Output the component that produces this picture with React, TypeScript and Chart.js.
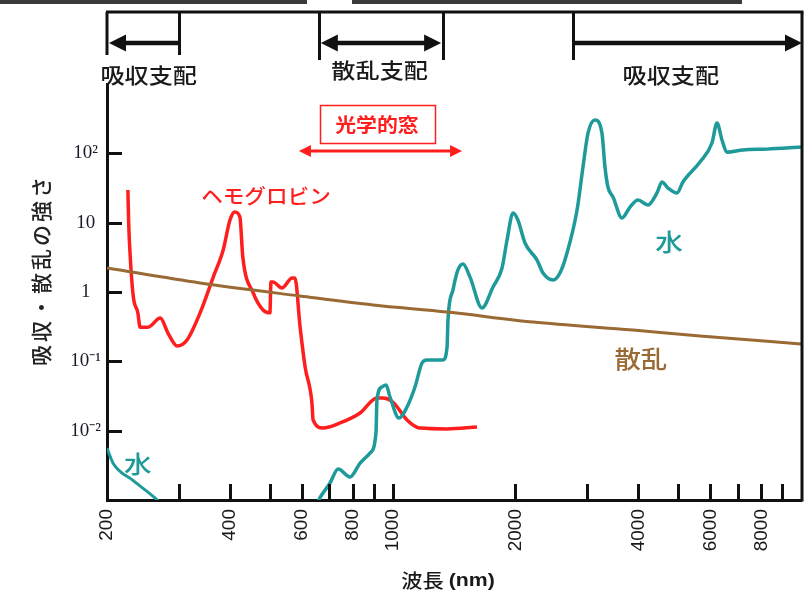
import React, { useEffect, useRef } from "react";
import { Chart, registerables } from "chart.js";

Chart.register(...registerables);

// ---- colours ----
const RED = "#ff1e1e";
const TEAL = "#1f9a9a";
const BROWN = "#9a6a35";
const INK = "#111111";
const JP = '"Noto Sans CJK JP", "Noto Sans", sans-serif';

// ---- data (wavelength in nm, relative strength) ----
const hbWavelengths = [225, 226, 228, 232, 238, 241, 252, 270, 282, 297, 314, 338, 364, 385, 400, 411, 423, 430, 456, 482, 501, 504, 510, 536, 568, 577, 594, 611, 635, 639, 676, 744, 833, 916, 948, 1002, 1085, 1167, 1360, 1610];
const hbValues = [29.6, 9.9, 3.2, 0.85, 0.5, 0.31, 0.31, 0.42, 0.256, 0.166, 0.203, 0.5, 1.64, 4.03, 10.9, 14.3, 12.1, 3.2, 0.97, 0.55, 0.5, 1.39, 1.39, 1.14, 1.59, 1.59, 0.31, 0.083, 0.025, 0.0143, 0.0109, 0.0129, 0.018, 0.0296, 0.0296, 0.0259, 0.0143, 0.0109, 0.0106, 0.0113];

const waterUvWavelengths = [200, 207, 232, 262, 270];
const waterUvValues = [0.0056, 0.0034, 0.0019, 0.00107, 0.0009];

const waterWavelengths = [655, 664, 703, 736, 787, 833, 881, 911, 916, 942, 964, 986, 1037, 1085, 1135, 1181, 1214, 1329, 1360, 1367, 1406, 1446, 1488, 1548, 1656, 1762, 1854, 1907, 1972, 2028, 2110, 2258, 2336, 2472, 2570, 2674, 2830, 2926, 3010, 3130, 3256, 3312, 3368, 3466, 3646, 3814, 3990, 4220, 4440, 4568, 4724, 4970, 5140, 5658, 6054, 6228, 6406, 6588, 7212, 8256, 10000];
const waterValues = [0.0009, 0.00107, 0.00176, 0.0028, 0.00215, 0.00341, 0.00476, 0.00925, 0.0277, 0.0426, 0.0455, 0.0306, 0.0152, 0.0219, 0.0426, 0.0946, 0.1045, 0.1045, 0.161, 0.394, 1.07, 2.08, 2.53, 1.64, 0.587, 1.18, 2.22, 5.62, 13.8, 10.9, 5.09, 2.89, 1.88, 1.49, 1.88, 3.65, 15.2, 63.5, 196, 303, 196, 63.5, 32.7, 23.4, 11.7, 16.8, 21.2, 18.0, 26.8, 38.6, 31.6, 26.8, 38.6, 75, 141, 274, 156, 104, 112, 115, 123];

const scatterWavelengths = [200, 338, 594, 896, 1360, 2208, 3878, 5658, 10000];
const scatterValues = [2.22, 1.35, 0.875, 0.649, 0.514, 0.369, 0.283, 0.232, 0.178];

// ---- axes ----
const xTickValues = [200, 300, 400, 500, 600, 700, 800, 900, 1000, 2000, 3000, 4000, 5000, 6000, 7000, 8000, 9000];
const xLabeledTicks = [200, 400, 600, 800, 1000, 2000, 4000, 6000, 8000];
const yTickValues = [0.01, 0.1, 1, 10, 100];
const yTickLabels = ["10⁻²", "10⁻¹", "1", "10", "10²"];
const xTitleMain = "波長 ";
const xTitleUnit = "(nm)";
const yTitle = "吸収・散乱の強さ";

// ---- annotations ----
const regionDividers = [300, 660, 1330, 2770];
const regionLabels = ["吸収支配", "散乱支配", "吸収支配"];
const regionLabelWavelengths = [253, 930, 4800];
const windowRange = [590, 1480];
const windowArrowValue = 108;
const windowLabel = "光学的窓";
const windowLabelAt = [916, 265];
const hbLabel = "ヘモグロビン";
const hbLabelAt = [490, 24.3];
const waterLabel = "水";
const waterLabelsAt = [[238, 0.0033], [4752, 5.26]];
const scatterLabel = "散乱";
const scatterLabelAt = [4055, 0.108];

function toPoints(xs: number[], ys: number[]) {
  return xs.map((x, i) => ({ x, y: ys[i] }));
}

function drawText(ctx: CanvasRenderingContext2D, text: string, cx: number, cy: number, font: string, color: string, sx = 1) {
  ctx.save();
  ctx.translate(cx, cy);
  ctx.scale(sx, 1);
  ctx.font = font;
  ctx.fillStyle = color;
  ctx.textAlign = "center";
  ctx.textBaseline = "middle";
  ctx.fillText(text, 0, 0);
  ctx.restore();
}

function line(ctx: CanvasRenderingContext2D, x1: number, y1: number, x2: number, y2: number) {
  ctx.beginPath();
  ctx.moveTo(x1, y1);
  ctx.lineTo(x2, y2);
  ctx.stroke();
}

function head(ctx: CanvasRenderingContext2D, tipX: number, y: number, dir: number, len: number, half: number) {
  ctx.beginPath();
  ctx.moveTo(tipX, y);
  ctx.lineTo(tipX - dir * len, y - half);
  ctx.lineTo(tipX - dir * len, y + half);
  ctx.closePath();
  ctx.fill();
}

const decorations = {
  id: "decorations",
  afterDraw(chart: any) {
    const { ctx, chartArea: ca } = chart;
    const x = chart.scales.x;
    const y = chart.scales.y;
    ctx.save();

    // scanned noise strip at the very top
    ctx.fillStyle = "#3a3a3a";
    ctx.fillRect(0, 0, 307, 4);
    ctx.fillRect(352, 0, 390, 4);

    // inner tick marks
    ctx.strokeStyle = INK;
    ctx.lineWidth = 3;
    xTickValues.forEach((v) => {
      if (v === xTickValues[0]) return;
      const px = Math.round(x.getPixelForValue(v)) + 0.5;
      line(ctx, px, ca.bottom, px, ca.bottom - 16);
    });
    yTickValues.forEach((v) => {
      const py = Math.round(y.getPixelForValue(v)) + 0.5;
      line(ctx, ca.left, py, ca.left + 15, py);
    });

    // right frame and top bracket line
    const rightX = ca.right + 1;
    line(ctx, rightX, 12, rightX, ca.bottom + 1.5);
    line(ctx, ca.left - 1, 12, rightX + 1.5, 12);

    // region dividers
    line(ctx, ca.left, 12, ca.left, 55);
    regionDividers.forEach((v, i) => {
      const px = Math.round(x.getPixelForValue(v)) + 0.5;
      line(ctx, px, 12, px, i === 0 ? 55 : 60);
    });

    // region arrows
    ctx.fillStyle = INK;
    ctx.lineWidth = 4.5;
    const ay = 43;
    const d0 = x.getPixelForValue(regionDividers[0]);
    const d1 = x.getPixelForValue(regionDividers[1]);
    const d2 = x.getPixelForValue(regionDividers[2]);
    const d3 = x.getPixelForValue(regionDividers[3]);
    line(ctx, d0, ay, ca.left + 12, ay);
    head(ctx, ca.left + 2, ay, -1, 17, 8.5);
    line(ctx, d1 + 12, ay, d2 - 12, ay);
    head(ctx, d1 + 2, ay, -1, 17, 8.5);
    head(ctx, d2 - 2, ay, 1, 17, 8.5);
    line(ctx, d3, ay, rightX - 12, ay);
    head(ctx, rightX, ay, 1, 17, 8.5);

    // region labels
    const regionFont = `500 21px ${JP}`;
    regionLabels.forEach((t, i) => {
      drawText(ctx, t, x.getPixelForValue(regionLabelWavelengths[i]), i === 1 ? 70 : 75, regionFont, "#1a1a1a", 1.15);
    });

    // optical window
    const wy = y.getPixelForValue(windowArrowValue);
    const w0 = x.getPixelForValue(windowRange[0]);
    const w1 = x.getPixelForValue(windowRange[1]);
    ctx.strokeStyle = RED;
    ctx.fillStyle = RED;
    ctx.lineWidth = 3;
    line(ctx, w0 + 8, wy, w1 - 8, wy);
    head(ctx, w0, wy, -1, 12, 6);
    head(ctx, w1, wy, 1, 12, 6);
    const bx = x.getPixelForValue(windowLabelAt[0]);
    const by = y.getPixelForValue(windowLabelAt[1]);
    ctx.lineWidth = 1.5;
    ctx.strokeRect(Math.round(bx - 57) + 0.5, Math.round(by - 19) + 0.5, 115, 38);
    drawText(ctx, windowLabel, bx, by + 1, `bold 19px ${JP}`, RED, 1.1);

    // curve labels
    drawText(ctx, hbLabel, x.getPixelForValue(hbLabelAt[0]), y.getPixelForValue(hbLabelAt[1]), `500 20px ${JP}`, RED, 1.08);
    waterLabelsAt.forEach(([wx, wv]) => {
      drawText(ctx, waterLabel, x.getPixelForValue(wx), y.getPixelForValue(wv), `500 24px ${JP}`, TEAL, 1.15);
    });
    drawText(ctx, scatterLabel, x.getPixelForValue(scatterLabelAt[0]), y.getPixelForValue(scatterLabelAt[1]), `500 24px ${JP}`, BROWN, 1.1);

    // y title
    ctx.save();
    ctx.translate(41, 270);
    ctx.rotate(-Math.PI / 2);
    ctx.font = `500 21px ${JP}`;
    (ctx as any).letterSpacing = "3px";
    ctx.fillStyle = "#222";
    ctx.textAlign = "center";
    ctx.textBaseline = "middle";
    ctx.fillText(yTitle, 0, 0);
    ctx.restore();

    // x title
    ctx.save();
    const fMain = `500 19px ${JP}`;
    const fUnit = `bold 19px "Liberation Sans", ${JP}`;
    ctx.font = fMain;
    const wMain = ctx.measureText(xTitleMain).width;
    ctx.font = fUnit;
    const wUnit = ctx.measureText(xTitleUnit).width;
    const sx = 1.12;
    ctx.translate(448, 581);
    ctx.scale(sx, 1);
    const start = -(wMain + wUnit) / 2;
    ctx.fillStyle = "#1a1a1a";
    ctx.textBaseline = "middle";
    ctx.textAlign = "left";
    ctx.font = fMain;
    ctx.fillText(xTitleMain, start, 0);
    ctx.font = fUnit;
    ctx.fillText(xTitleUnit, start + wMain, 0);
    ctx.restore();

    ctx.restore();
  },
};

export default function App() {
  const ref = useRef<HTMLCanvasElement>(null);
  useEffect(() => {
    const chart = new Chart(ref.current as HTMLCanvasElement, {
      type: "line",
      data: {
        datasets: [
          { data: toPoints(scatterWavelengths, scatterValues), borderColor: BROWN, borderWidth: 3, pointRadius: 0, cubicInterpolationMode: "monotone" },
          { data: toPoints(waterUvWavelengths, waterUvValues), borderColor: TEAL, borderWidth: 3, pointRadius: 0, cubicInterpolationMode: "monotone" },
          { data: toPoints(waterWavelengths, waterValues), borderColor: TEAL, borderWidth: 3.5, pointRadius: 0, cubicInterpolationMode: "monotone" },
          { data: toPoints(hbWavelengths, hbValues), borderColor: RED, borderWidth: 3.5, pointRadius: 0, cubicInterpolationMode: "monotone" },
        ],
      } as any,
      options: {
        responsive: false,
        animation: false,
        layout: { padding: { top: 84, right: 0, left: 0, bottom: 0 } },
        plugins: { legend: { display: false }, tooltip: { enabled: false } },
        scales: {
          x: {
            type: "logarithmic",
            min: 200,
            max: 10000,
            afterBuildTicks: (s: any) => {
              s.ticks = xTickValues.map((value) => ({ value }));
            },
            afterFit: (s: any) => {
              s.height = 98;
              s.paddingRight = 7;
              s.paddingLeft = 0;
            },
            grid: { display: false, drawTicks: false },
            border: { display: true, color: INK, width: 3 },
            ticks: {
              autoSkip: false,
              maxRotation: 90,
              minRotation: 90,
              padding: 9,
              color: "#1a1a1a",
              font: { family: '"Liberation Sans", Arial, sans-serif', size: 19 },
              callback: (v: any) => (xLabeledTicks.includes(Number(v)) ? String(v) : ""),
            },
          },
          y: {
            type: "logarithmic",
            min: 0.001,
            max: 1000,
            afterBuildTicks: (s: any) => {
              s.ticks = yTickValues.map((value) => ({ value }));
            },
            afterFit: (s: any) => {
              s.width = 107;
            },
            grid: { display: false, drawTicks: false },
            border: { display: true, color: INK, width: 3 },
            ticks: {
              padding: 6,
              crossAlign: "center",
              color: "#1a1a2a",
              font: { family: '"Liberation Serif", "Times New Roman", serif', size: 19 },
              callback: (v: any) => {
                const i = yTickValues.indexOf(Number(v));
                return i >= 0 ? yTickLabels[i] : "";
              },
            },
          },
        },
      } as any,
      plugins: [decorations],
    });
    return () => chart.destroy();
  }, []);
  return (
    <div style={{ position: "absolute", left: 0, top: 0, width: 808, height: 598, background: "#fff", overflow: "hidden" }}>
      <canvas ref={ref} width={808} height={598} style={{ display: "block", width: 808, height: 598 }} />
    </div>
  );
}
